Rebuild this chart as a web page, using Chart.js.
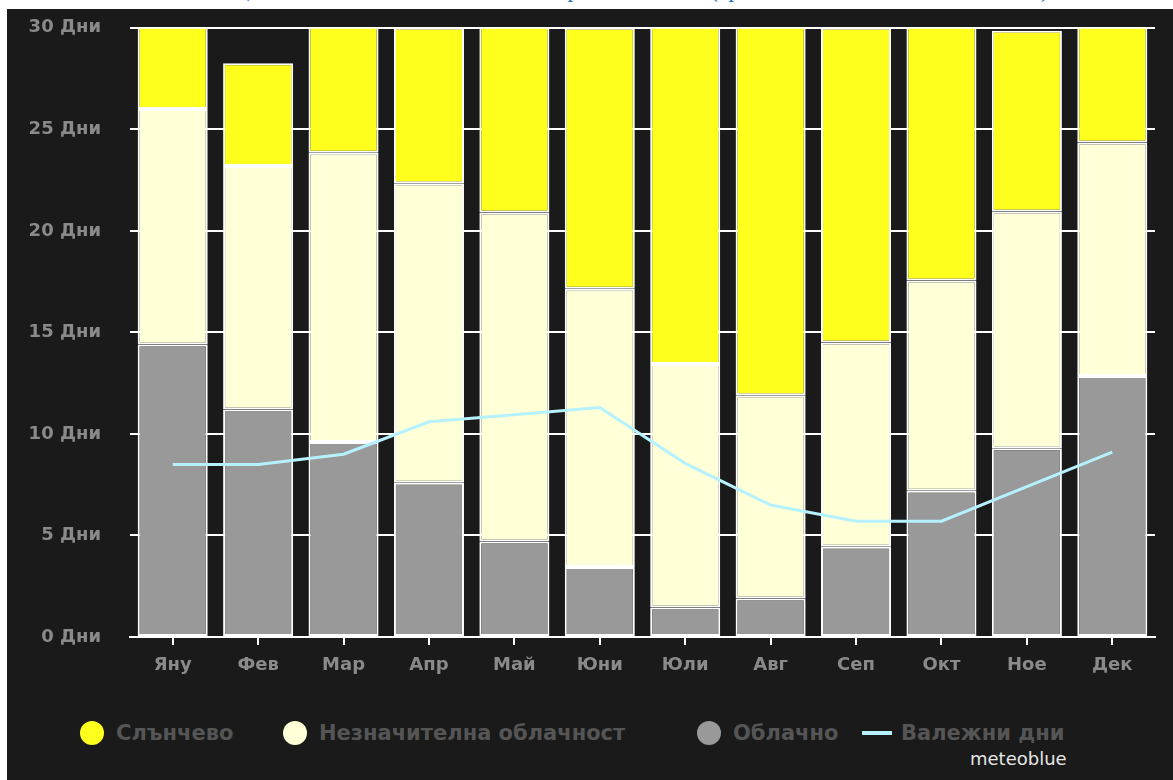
<!DOCTYPE html>
<html>
<head>
<meta charset="utf-8">
<script src="https://cdn.jsdelivr.net/npm/chart.js@4"></script>
<style>
  body { margin: 0; background: #fff; font-family: "DejaVu Sans", sans-serif; }
  .title-strip { position: absolute; left: 0; top: 0; width: 1173px; height: 9px; overflow: hidden; }
  .title-strip span { position: absolute; left: 160px; top: -24px; font: italic 24px "Liberation Serif", serif; color: #1b6ec6; white-space: nowrap; }
  .panel { position: absolute; left: 7px; top: 9px; width: 1166px; height: 771px; background: #1a1a1a; }
  #chart { position: absolute; left: 0; top: -21px; }
  .legend-item { position: absolute; top: 710px; height: 28px; display: flex; align-items: center; font: bold 21px "DejaVu Sans", sans-serif; color: #555; white-space: nowrap; }
  .legend-item .dot { width: 24px; height: 24px; border-radius: 50%; margin-right: 12px; }
  .legend-item .bar { width: 30px; height: 4px; margin-right: 9px; }
  .brand { position: absolute; left: 963px; top: 739px; font: 18px "DejaVu Sans", sans-serif; color: #e6e6e6; }
</style>
</head>
<body>
<div class="title-strip"><span>Облачни, слънчеви дни и дни с валежи през годината (средни стойности за 30 години)</span></div>
<div class="panel">
  <canvas id="chart" width="1166" height="711"></canvas>
  <div id="legend"></div>
  <div class="brand">meteoblue</div>
</div>
<script>
const months = ["Яну", "Фев", "Мар", "Апр", "Май", "Юни", "Юли", "Авг", "Сеп", "Окт", "Ное", "Дек"];
const cloudyDays = [14.4, 11.2, 9.6, 7.6, 4.7, 3.45, 1.45, 1.9, 4.45, 7.2, 9.3, 12.85];
const partlyCloudyDays = [11.6, 12.0, 14.25, 14.75, 16.2, 13.7, 12.0, 10.0, 10.05, 10.35, 11.65, 11.5];
const sunnyDays = [5.0, 5.05, 7.15, 7.65, 10.1, 12.85, 17.55, 19.1, 15.5, 13.45, 8.9, 6.65];
const precipDays = [8.5, 8.5, 9.0, 10.6, 10.95, 11.3, 8.55, 6.5, 5.7, 5.7, 7.4, 9.1];
const yTicks = [0, 5, 10, 15, 20, 25, 30];

const legendLeft = [73, 276, 690, 855];

const barStyle = { borderColor: "#ffffff", borderWidth: 2, borderSkipped: false, barPercentage: 0.82, categoryPercentage: 1, stack: "sky", order: 2, clip: { left: 0, top: -1, right: 0, bottom: 0 } };

const chart = new Chart(document.getElementById("chart"), {
  data: {
    labels: months,
    datasets: [
      { type: "line", label: "Валежни дни", data: precipDays, borderColor: "#b5f1ff", borderWidth: 3, pointRadius: 0, tension: 0, stack: "precip", order: 0, legendShape: "line" },
      { type: "bar", label: "Облачно", data: cloudyDays, backgroundColor: "#999999", ...barStyle },
      { type: "bar", label: "Незначителна облачност", data: partlyCloudyDays, backgroundColor: "#ffffd8", ...barStyle },
      { type: "bar", label: "Слънчево", data: sunnyDays, backgroundColor: "#ffff1e", ...barStyle },
    ],
  },
  options: {
    responsive: false,
    animation: false,
    layout: { padding: { top: 18, right: 18, left: 0, bottom: 0 } },
    plugins: { legend: { display: false }, tooltip: { enabled: false } },
    scales: {
      x: {
        stacked: true,
        offset: true,
        grid: { offset: false, drawOnChartArea: false, drawTicks: true, tickLength: 8, color: "#ffffff", lineWidth: 2 },
        border: { display: true, color: "#ffffff", width: 2 },
        ticks: { color: "#8a8a8a", padding: 10, font: { family: "DejaVu Sans", size: 18, weight: "bold" } },
        afterFit: (scale) => { scale.height = 62; },
      },
      y: {
        stacked: true,
        min: 0,
        max: 30,
        afterBuildTicks: (scale) => { scale.ticks = yTicks.map((v) => ({ value: v })); },
        grid: { color: "#ffffff", lineWidth: 2, drawTicks: false },
        border: { display: false },
        ticks: { color: "#8a8a8a", padding: 29, callback: (v) => v + " Дни", font: { family: "DejaVu Sans", size: 18, weight: "bold" } },
        afterFit: (scale) => { scale.width = 123; },
      },
    },
  },
});

// legend in the order shown on the page
const legend = document.getElementById("legend");
const legendOrder = [3, 2, 1, 0];
legendOrder.forEach((idx, i) => {
  const ds = chart.data.datasets[idx];
  const item = document.createElement("div");
  item.className = "legend-item";
  item.style.left = legendLeft[i] + "px";
  const mark = document.createElement("span");
  if (ds.legendShape === "line") {
    mark.className = "bar";
    mark.style.background = ds.borderColor;
  } else {
    mark.className = "dot";
    mark.style.background = ds.backgroundColor;
  }
  item.appendChild(mark);
  item.appendChild(document.createTextNode(ds.label));
  legend.appendChild(item);
});
</script>
</body>
</html>
